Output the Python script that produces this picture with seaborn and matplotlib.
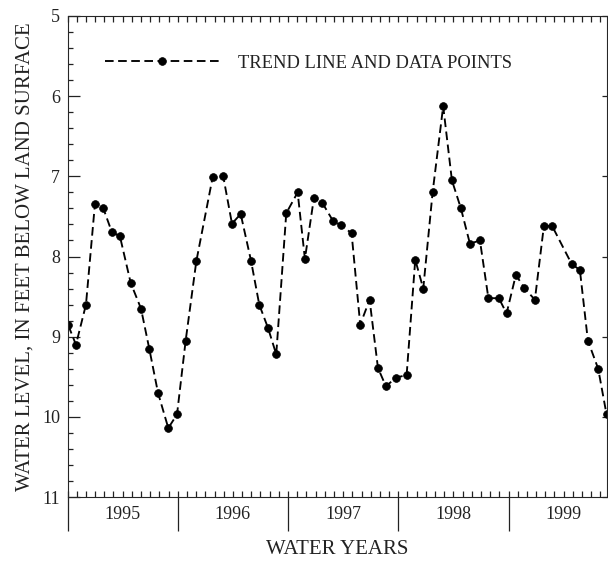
import numpy as np
import pandas as pd
import matplotlib
matplotlib.use("Agg")
import matplotlib.pyplot as plt
import matplotlib.transforms as mtransforms
from matplotlib.ticker import MultipleLocator, FixedLocator, NullFormatter
import seaborn as sns

# Months since start of water year 1995 (1 Oct 1994)
months = [0.09, 0.92, 2.01, 2.99, 3.90, 4.81, 5.71, 6.88, 8.00, 8.90,
          9.85, 10.97, 11.92, 12.86, 14.02, 15.80, 16.95, 17.90, 18.85, 19.97,
          20.87, 21.82, 22.72, 23.81, 25.05, 25.84, 26.82, 27.73, 28.92, 29.79,
          30.92, 31.86, 32.88, 33.79, 34.66, 35.75, 36.91, 37.85, 38.72, 39.74,
          40.89, 41.84, 42.82, 43.80, 44.89, 45.81, 46.95, 47.79, 48.80, 49.71,
          50.87, 51.85, 52.75, 54.86, 55.77, 56.64, 57.76, 58.67]
water_level = [8.86, 9.10, 8.60, 7.34, 7.40, 7.69, 7.75, 8.33, 8.65, 9.15,
               9.70, 10.14, 9.97, 9.05, 8.06, 7.01, 7.00, 7.59, 7.47, 8.05,
               8.60, 8.89, 9.22, 7.46, 7.20, 8.03, 7.27, 7.33, 7.56, 7.61,
               7.71, 8.85, 8.54, 9.39, 9.62, 9.51, 9.48, 8.04, 8.40, 7.20,
               6.125, 7.05, 7.40, 7.84, 7.80, 8.52, 8.52, 8.71, 8.23, 8.39,
               8.54, 7.62, 7.62, 8.09, 8.17, 9.05, 9.40, 9.97]
year_labels = ["1995", "1996", "1997", "1998", "1999"]
year_centers = [6, 18, 30, 42, 54]
year_bounds = [0, 12, 24, 36, 48]

df = pd.DataFrame({"month": months, "level": water_level})

sns.set_style("ticks")
plt.rcParams["font.family"] = ["Liberation Serif", "DejaVu Serif"]

fig = plt.figure(figsize=(6.08, 5.63), dpi=100)
ax = fig.add_axes([67.5 / 608, 1 - 497 / 563, 539.5 / 608, 481 / 563])

sns.lineplot(data=df, x="month", y="level", ax=ax, color="black",
             linestyle=(0, (4.6, 2.4)), linewidth=1.35, marker="o",
             markersize=5.6, markeredgecolor="black", markeredgewidth=0.5,
             label="TREND LINE AND DATA POINTS")

ax.set_xlim(0, 58.72)
ax.set_ylim(11, 5)

# y ticks
ax.yaxis.set_major_locator(MultipleLocator(1))
ax.yaxis.set_minor_locator(MultipleLocator(0.2))
ax.tick_params(axis="y", which="major", direction="in", length=8.6, width=0.9,
               labelsize=13, pad=5.4, left=True, right=True, colors="#222222")
ax.tick_params(axis="y", which="minor", direction="in", length=3.8, width=0.9,
               left=True, right=False, color="#222222")

# x ticks: year boundaries outward (long), months inward on top and bottom
ax.xaxis.remove_overlapping_locs = False
ax.xaxis.set_major_locator(FixedLocator(year_bounds))
ax.xaxis.set_major_formatter(NullFormatter())
ax.xaxis.set_minor_locator(MultipleLocator(1))
ax.tick_params(axis="x", which="major", direction="out", length=24.5, width=0.9,
               bottom=True, top=False, color="#222222")
ax.tick_params(axis="x", which="minor", direction="in", length=4.3, width=0.9,
               bottom=True, top=True, color="#222222")

trans = mtransforms.blended_transform_factory(ax.transData, ax.transAxes)
for c, lab in zip(year_centers, year_labels):
    ax.text(c, -0.0374, lab, transform=trans, ha="center", va="center",
            fontsize=13, color="#222222")

ax.set_xlabel("WATER YEARS", fontsize=15, color="#222222")
ax.xaxis.set_label_coords(0.5, -0.110)
ax.xaxis.label.set_va("center")
ax.set_ylabel("WATER LEVEL, IN FEET BELOW LAND SURFACE", fontsize=15,
              color="#222222")
ax.yaxis.set_label_coords((25 - 67.5) / 539.5, 0.5)
ax.yaxis.label.set_va("center")

leg = ax.legend(loc="center left",
                bbox_to_anchor=((105 - 67.5) / 539.5, (497 - 63) / 481),
                frameon=False, fontsize=13.3, handlelength=6.2,
                handletextpad=1.0, borderpad=0, borderaxespad=0,
                numpoints=1)
for t in leg.get_texts():
    t.set_color("#222222")

# right-side major ticks are shorter than the left ones
fig.canvas.draw()
for tk in ax.yaxis.get_major_ticks():
    tk.tick2line.set_markersize(3.6)

fig.savefig("out.png", dpi=100)
